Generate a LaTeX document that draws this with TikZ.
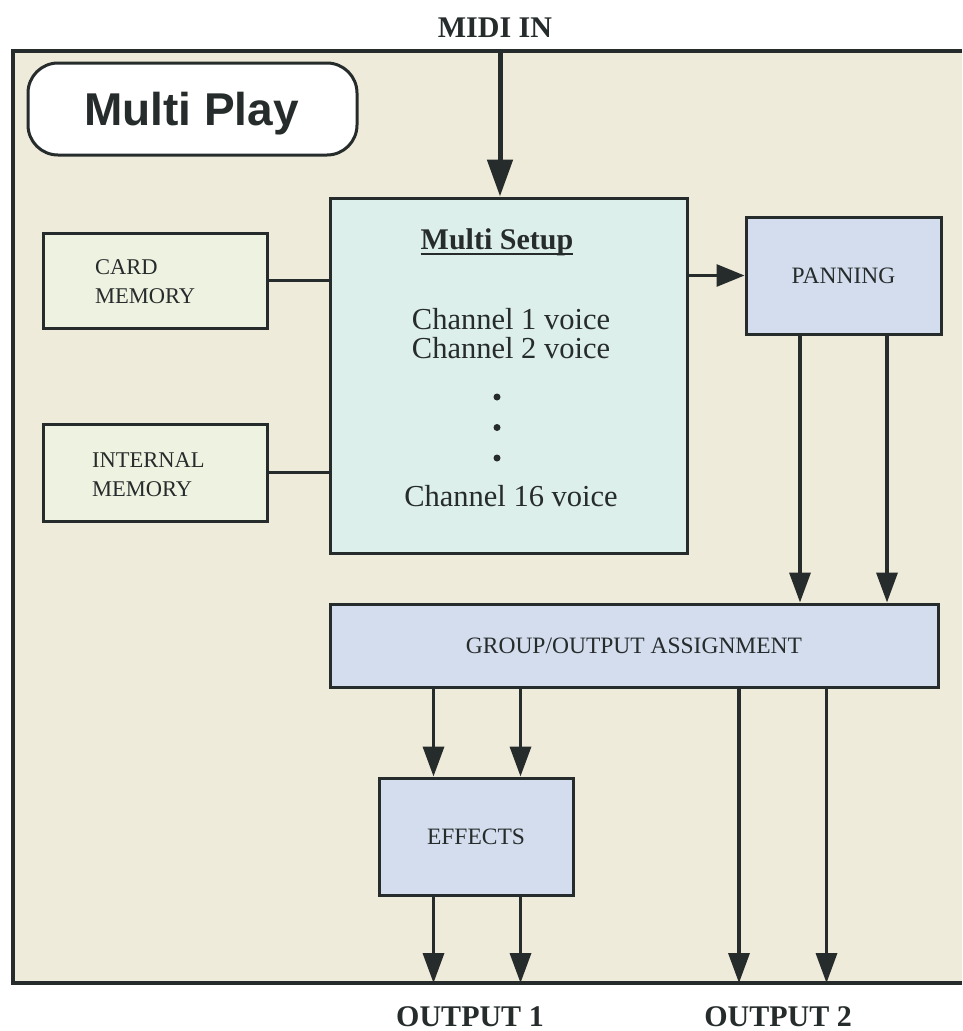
\documentclass[tikz,border=0pt]{standalone}
\usepackage{fontspec}
\setmainfont{Liberation Serif}
\newfontfamily\headsans{Liberation Sans}
\usetikzlibrary{arrows.meta}

\definecolor{paper}{RGB}{239,235,219}
\definecolor{setupfill}{RGB}{221,239,235}
\definecolor{memfill}{RGB}{238,242,224}
\definecolor{bluefill}{RGB}{211,221,238}
\definecolor{ink}{RGB}{38,43,43}

\tikzset{
  box/.style={draw=ink, line width=3pt, rectangle, inner sep=0pt, text=ink},
  label/.style={font=\fontsize{23.5}{27}\selectfont, text=ink, inner sep=0pt},
  memtext/.style={font=\fontsize{22.5}{29}\selectfont, text=ink, inner sep=0pt, align=left, anchor=west},
  chantext/.style={font=\fontsize{30.5}{34}\selectfont, text=ink, inner sep=0pt, anchor=base},
  bigtext/.style={font=\fontsize{30}{34}\selectfont\bfseries, text=ink, inner sep=0pt, anchor=base},
  flow/.style={draw=ink, line width=3.5pt, -{Triangle[length=30pt,width=21pt]}},
  link/.style={draw=ink, line width=3pt},
  dotmark/.style={circle, fill=ink, inner sep=0pt, minimum size=7pt}
}

\begin{document}
\begin{tikzpicture}[x=1pt,y=-1pt]
\useasboundingbox (0,0) rectangle (962,1031);
\fill[white] (0,0) rectangle (962,1031);

% panel, open on the right-hand side
\fill[paper] (13,51) rectangle (962,983);
\draw[ink, line width=3.5pt] (962,51) -- (13,51) -- (13,983) -- (962,983);

% title plate
\node[box, fill=white, rounded corners=30pt, minimum width=329pt, minimum height=92pt] (plate) at (192.5,109) {};
\node[font=\headsans\bfseries\fontsize{46}{50}\selectfont, text=ink, inner sep=0pt, anchor=base] (platetext) at (191.5,125) {Multi Play};

% main blocks
\node[box, fill=setupfill, minimum width=357pt, minimum height=355pt] (setup) at (508.5,375.5) {};
\node[box, fill=memfill, minimum width=224pt, minimum height=95pt] (card) at (155,280.5) {};
\node[box, fill=memfill, minimum width=224pt, minimum height=97pt] (internal) at (155,472.5) {};
\node[box, fill=bluefill, minimum width=195pt, minimum height=117pt, label] (panning) at (843.5,275.5) {PANNING};
\node[box, fill=bluefill, minimum width=608pt, minimum height=83pt, label] (group) at (634,645.5) {GROUP/OUTPUT ASSIGNMENT};
\node[box, fill=bluefill, minimum width=194pt, minimum height=117pt, label] (effects) at (476,836.5) {EFFECTS};

% memory labels
\node[memtext] (cardtext) at (95,282) {CARD\\MEMORY};
\node[memtext] (internaltext) at (92,475) {INTERNAL\\MEMORY};

% contents of the multi setup block
\node[bigtext] (setuptitle) at (497,249) {Multi Setup};
\draw[ink, line width=2pt] ([yshift=-4.5pt]setuptitle.base west) -- ([yshift=-4.5pt]setuptitle.base east);
\node[chantext] (ch1) at (511,329) {Channel 1 voice};
\node[chantext] (ch2) at (511,358) {Channel 2 voice};
\node[dotmark] (dot1) at (497,397) {};
\node[dotmark] (dot2) at (497,427.5) {};
\node[dotmark] (dot3) at (497,458) {};
\node[chantext] (ch16) at (511,506) {Channel 16 voice};

% external labels
\node[bigtext] (midilabel) at (495,37) {MIDI IN};
\node[bigtext] (out1label) at (470,1026) {OUTPUT 1};
\node[bigtext] (out2label) at (778,1026) {OUTPUT 2};

% connector end points on the panel edge
\coordinate (midiin) at (500,51);
\coordinate (outa) at (433.5,983);
\coordinate (outb) at (520.5,983);
\coordinate (outc) at (739,983);
\coordinate (outd) at (826.5,983);

% connectors
\draw[draw=ink, line width=5pt, -{Triangle[length=37pt,width=25pt]}] (midiin) -- (midiin |- setup.north);
\draw[link] (card.east) -- (card.east -| setup.west);
\draw[link] (internal.east) -- (internal.east -| setup.west);
\draw[flow, line width=3pt, -{Triangle[length=28pt,width=22pt]}] (panning.west -| setup.east) -- (panning.west);
\draw[flow] ([xshift=-43.5pt]panning.south) -- ([xshift=-43.5pt]panning.south |- group.north);
\draw[flow] ([xshift=43.5pt]panning.south) -- ([xshift=43.5pt]panning.south |- group.north);
\draw[flow] (outa |- group.south) -- (outa |- effects.north);
\draw[flow] (outb |- group.south) -- (outb |- effects.north);
\draw[flow] (outa |- effects.south) -- (outa);
\draw[flow] (outb |- effects.south) -- (outb);
\draw[flow] (outc |- group.south) -- (outc);
\draw[flow] (outd |- group.south) -- (outd);
\end{tikzpicture}
\end{document}
